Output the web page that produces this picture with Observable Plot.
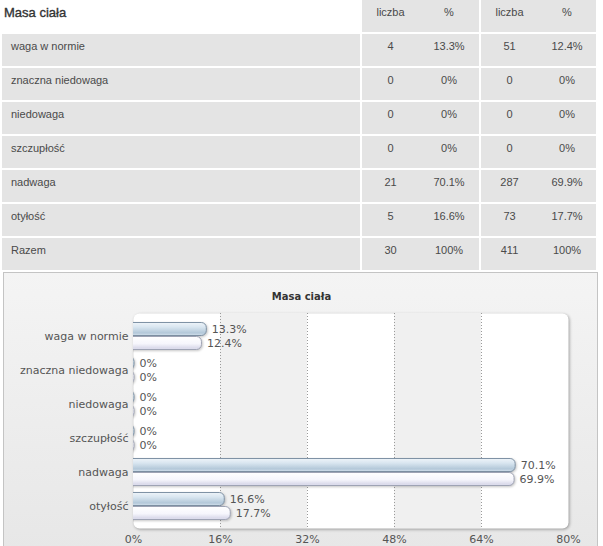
<!DOCTYPE html>
<html>
<head>
<meta charset="utf-8">
<script src="https://cdn.jsdelivr.net/npm/d3@7"></script>
<script src="https://cdn.jsdelivr.net/npm/@observablehq/plot@0.6"></script>
<style>
  html, body { margin: 0; padding: 0; background: #fff; overflow: hidden; }
  body { width: 603px; height: 546px; position: relative; }
  #tbl { position: absolute; left: 2px; top: 0; border-collapse: separate; border-spacing: 0;
         font-family: "Liberation Sans", Arial, sans-serif; font-size: 11px; color: #4a4a4a; }
  #tbl td { height: 26px; padding: 6px 0 0 0; line-height: 13px; vertical-align: top;
            border-bottom: 2px solid #fff; background: #e4e4e4; text-align: center; }
  #tbl td.lab { text-align: left; padding-left: 9px; width: 349px; }
  #tbl td.g { border-left: 2px solid #fff; }
  #tbl tr.head td.lab { background: #fff; padding-left: 2px; width: 356px; font-size: 13px;
            color: #333; -webkit-text-stroke: 0.35px #333; padding-top: 6px; }
  #box { position: absolute; left: 3px; top: 272px; width: 593px; height: 300px;
         border: 1px solid #c4c4c4; background: linear-gradient(#f4f4f4, #e6e6e6); }
  #ctitle { position: absolute; left: 0; top: 290px; width: 603px; text-align: center;
            font-family: "DejaVu Sans", sans-serif; font-weight: bold; font-size: 10px;
            line-height: 14px; color: #333; }
  #chart { position: absolute; left: 0; top: 305px; }
</style>
</head>
<body>
<svg width="0" height="0" style="position:absolute">
  <defs>
    <linearGradient id="gA" x1="0" y1="0" x2="0" y2="1">
      <stop offset="0%" stop-color="#eef4f9"/>
      <stop offset="35%" stop-color="#d9e6f0"/>
      <stop offset="80%" stop-color="#b3c8d9"/>
      <stop offset="100%" stop-color="#d4e1ec"/>
    </linearGradient>
    <linearGradient id="gB" x1="0" y1="0" x2="0" y2="1">
      <stop offset="0%" stop-color="#ffffff"/>
      <stop offset="55%" stop-color="#f6f6fc"/>
      <stop offset="90%" stop-color="#d9d9ea"/>
      <stop offset="100%" stop-color="#e6e6f2"/>
    </linearGradient>
  </defs>
</svg>
<table id="tbl"></table>
<div id="box"></div>
<div id="ctitle"></div>
<div id="chart"></div>
<script>
// ---- data ----
const tableTitle = "Masa ciała";
const chartTitle = "Masa ciała";
const headerLabels = ["liczba", "%", "liczba", "%"];
const categories = ["waga w normie", "znaczna niedowaga", "niedowaga", "szczupłość", "nadwaga", "otyłość"];
const countA = [4, 0, 0, 0, 21, 5];
const pctA = [13.3, 0, 0, 0, 70.1, 16.6];
const countB = [51, 0, 0, 0, 287, 73];
const pctB = [12.4, 0, 0, 0, 69.9, 17.7];
const totalLabel = "Razem";
const totalA = [30, 100];
const totalB = [411, 100];
const xTicks = [0, 16, 32, 48, 64, 80];

const pf = v => v + "%";

// ---- table ----
const tbl = document.getElementById("tbl");
function addRow(cells, cls) {
  const tr = document.createElement("tr");
  if (cls) tr.className = cls;
  cells.forEach((c, i) => {
    const td = document.createElement("td");
    td.textContent = c;
    if (i === 0) td.className = "lab";
    if (i === 1 || i === 3) td.className = "g";
    if (i === 1 || i === 3) td.style.width = "57px";
    if (i === 2) td.style.width = "60px";
    if (i === 4) td.style.width = "58px";
    tr.appendChild(td);
  });
  tbl.appendChild(tr);
}
addRow([tableTitle, ...headerLabels], "head");
categories.forEach((c, i) => addRow([c, countA[i], pf(pctA[i]), countB[i], pf(pctB[i])]));
addRow([totalLabel, totalA[0], pf(totalA[1]), totalB[0], pf(totalB[1])]);

document.getElementById("ctitle").textContent = chartTitle;

// ---- chart ----
const dataA = categories.map((c, i) => ({cat: c, v: pctA[i]}));
const dataB = categories.map((c, i) => ({cat: c, v: pctB[i]}));
const bands = xTicks.slice(0, -1).map((t, i) => ({x1: t, x2: xTicks[i + 1], i})).filter(d => d.i % 2 === 1);

const W = 603, H = 241, ML = 133, MR = 35, MT = 8, MB = 18;
const barOpts = {x: "v", y: "cat", insetTop: 10.5, insetBottom: 10.5, insetLeft: -20, insetRight: -1, rx: 5};
const plot = Plot.plot({
  width: W, height: H,
  marginLeft: ML, marginRight: MR, marginTop: MT, marginBottom: MB,
  style: {background: "transparent", fontFamily: "DejaVu Sans", fontSize: "11px", color: "#555", overflow: "visible"},
  x: {domain: [xTicks[0], xTicks[xTicks.length - 1]], ticks: xTicks, tickFormat: pf, tickSize: 0, tickPadding: 7, label: null},
  y: {domain: categories, tickSize: 0, tickPadding: 5, label: null, padding: 0, insetTop: 3.5, insetBottom: 2.5},
  marks: [
    Plot.frame({fill: "white", stroke: "none"}),
    Plot.rect(bands, {x1: "x1", x2: "x2", fill: "#f0f0f0"}),
    Plot.ruleX(xTicks.slice(1, -1), {stroke: "#9a9a9a", strokeDasharray: "1,2"}),
    Plot.barX(dataA, {...barOpts, dy: -7, fill: "url(#gA)", stroke: "#7f92a5", strokeWidth: 1}),
    Plot.barX(dataB, {...barOpts, dy: 7, fill: "url(#gB)", stroke: "#9ea3b4", strokeWidth: 1}),
    Plot.text(dataA, {x: "v", y: "cat", dy: -7, dx: 6, text: d => pf(d.v), textAnchor: "start", fill: "#555"}),
    Plot.text(dataB, {x: "v", y: "cat", dy: 7, dx: 6, text: d => pf(d.v), textAnchor: "start", fill: "#555"})
  ]
});
document.getElementById("chart").appendChild(plot);

// styling touches: rounded shadowed frame, clipped bars with shadows
const svg = d3.select(plot.tagName.toLowerCase() === "svg" ? plot : plot.querySelector("svg"));
svg.selectAll('[aria-label="frame"]').each(function() {
  const el = d3.select(this);
  const rects = this.tagName === "rect" ? el : el.selectAll("rect");
  rects.attr("rx", 6).attr("ry", 6).style("filter", "drop-shadow(1px 1px 1.5px rgba(0,0,0,0.35))");
});
const defs = svg.append("defs");
defs.append("clipPath").attr("id", "clipBars").append("rect")
  .attr("x", ML).attr("y", -50).attr("width", W - ML).attr("height", H + 100);
svg.selectAll('g[aria-label="bar"]').attr("clip-path", "url(#clipBars)")
  .selectAll("rect").style("filter", "drop-shadow(1px 1.5px 1px rgba(0,0,0,0.22))");
</script>
</body>
</html>
